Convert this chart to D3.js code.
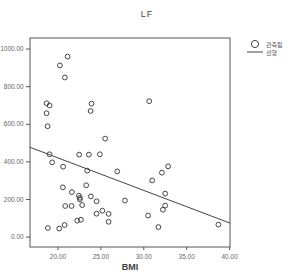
<!DOCTYPE html>
<html><head><meta charset="utf-8">
<script src="https://cdn.jsdelivr.net/npm/d3@7"></script>
<style>body{margin:0;background:#fff;}svg{display:block;}</style>
</head><body>
<svg id="c" width="292" height="272"></svg>
<script>
const bmi = [21.18,20.28,20.86,18.73,19.08,18.73,18.85,23.97,23.86,30.69,25.56,19.08,22.53,23.66,24.94,19.38,20.66,23.46,26.96,32.17,32.89,31.04,20.63,21.68,23.35,22.49,22.61,22.61,23.89,24.56,20.9,21.64,22.88,24.56,25.23,25.96,25.96,22.3,22.73,20.2,20.83,18.88,27.86,30.56,31.76,32.55,32.55,32.28,38.75];
const lf = [957,910,846,709,697,656,587,707,668,720,521,438,436,436,438,395,372,351,347,340,374,299,262,237,273,218,207,198,214,188,163,163,168,122,138,121,79,85,90,43,62,46,192,112,51,229,165,143,64];
const fitX = [16.8, 40.1];
const fitY = [475, 72];
const xTicks = [20,25,30,35,40];
const yTicks = [0,200,400,600,800,1000];
const legendLabels = ["관측됨","선형"];

const svg = d3.select("#c");
const L=30,R=230,T=38,B=247;
const x = d3.scaleLinear().domain([16.8,40.1]).range([L,R]);
const y = d3.scaleLinear().domain([-55,1056]).range([B,T]);
const font = "Liberation Sans, Arial, sans-serif";

svg.append("text").attr("x",147).attr("y",17).attr("text-anchor","middle")
  .attr("font-family",font).attr("font-size",9).attr("fill","#444").attr("letter-spacing",1).text("LF");

svg.append("rect").attr("x",L).attr("y",T).attr("width",R-L).attr("height",B-T)
  .attr("fill","none").attr("stroke","#555").attr("stroke-width",1);

const xa = svg.append("g").attr("transform",`translate(0,${B})`)
  .call(d3.axisBottom(x).tickValues(xTicks).tickSize(3).tickFormat(d3.format(".2f")));
const ya = svg.append("g").attr("transform",`translate(${L},0)`)
  .call(d3.axisLeft(y).tickValues(yTicks).tickSize(4).tickFormat(d3.format(".2f")));
[xa,ya].forEach(a=>{
  a.select(".domain").remove();
  a.selectAll("line").attr("stroke","#555");
  a.selectAll("text").attr("font-family",font).attr("font-size",6.5).attr("fill","#666");
});
xa.selectAll("text").attr("dy","0.9em");
ya.selectAll("text").attr("dx","0.1em");

svg.append("text").attr("x",130).attr("y",270).attr("text-anchor","middle")
  .attr("font-family",font).attr("font-size",9).attr("font-weight","bold").attr("fill","#444").text("BMI");

svg.append("line").attr("x1",x(fitX[0])).attr("y1",y(fitY[0])).attr("x2",x(fitX[1])).attr("y2",y(fitY[1]))
  .attr("stroke","#444").attr("stroke-width",1);

svg.append("g").selectAll("circle").data(bmi.map((d,i)=>[d,lf[i]])).join("circle")
  .attr("cx",d=>x(d[0])).attr("cy",d=>y(d[1])).attr("r",2.4)
  .attr("fill","none").attr("stroke","#444").attr("stroke-width",1);

// legend
svg.append("circle").attr("cx",255).attr("cy",44).attr("r",3.6).attr("fill","none").attr("stroke","#444").attr("stroke-width",1);
svg.append("line").attr("x1",247).attr("x2",263).attr("y1",52).attr("y2",52).attr("stroke","#444").attr("stroke-width",1);
svg.append("text").attr("x",266).attr("y",46.5).attr("font-family","Noto Sans CJK KR").attr("font-size",6).attr("fill","#555").text(legendLabels[0]);
svg.append("text").attr("x",266).attr("y",54.5).attr("font-family","Noto Sans CJK KR").attr("font-size",6).attr("fill","#555").text(legendLabels[1]);
</script>
</body></html>
